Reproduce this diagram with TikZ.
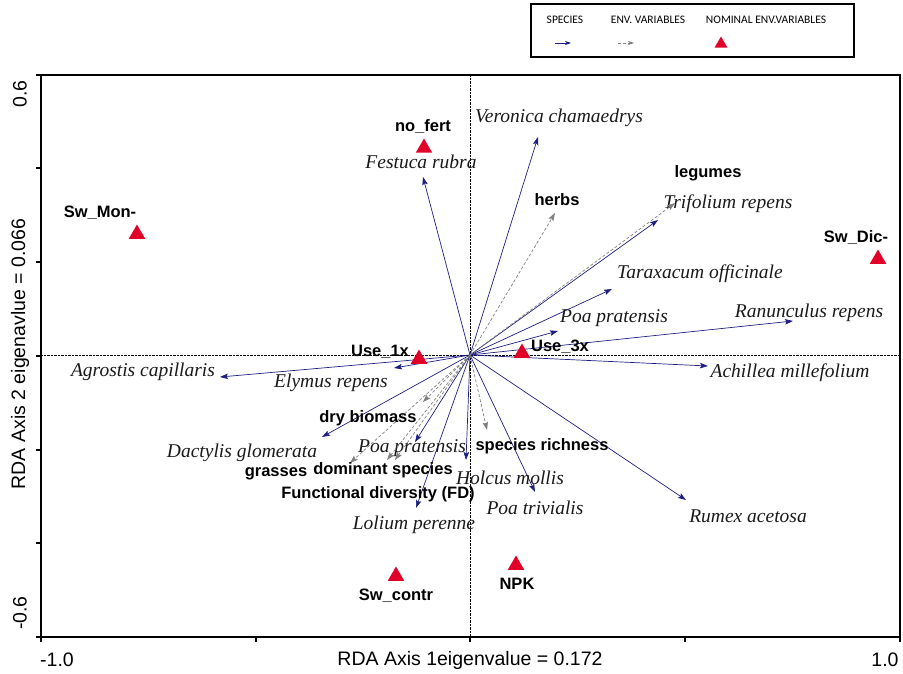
\documentclass[tikz,border=0pt]{standalone}
\usepackage{fontspec}
\setmainfont{Liberation Serif}
\setsansfont{Liberation Sans}
\newfontfamily\legendfont{Carlito}
\usetikzlibrary{arrows.meta,shapes.geometric}
\definecolor{spblue}{RGB}{30,30,130}
\definecolor{envgray}{RGB}{128,128,128}
\definecolor{nomred}{RGB}{224,0,40}
\tikzset{
  species/.style={->, draw=spblue, line width=0.7pt},
  envvar/.style={->, draw=envgray, line width=0.7pt, dash pattern=on 3pt off 2pt},
  nominal/.style={regular polygon, regular polygon sides=3, fill=nomred,
    minimum size=19pt, inner sep=0pt},
  splab/.style={font=\fontsize{19.5}{22}\selectfont\itshape, inner sep=0pt, text=black!90},
  envlab/.style={font=\fontsize{16.5}{19}\selectfont\sffamily\bfseries, inner sep=0pt},
  axlab/.style={font=\fontsize{19.5}{22}\selectfont\sffamily, inner sep=0pt},
  leglab/.style={font=\fontsize{11.5}{13}\selectfont\legendfont, inner sep=0pt}
}

\begin{document}
\begin{tikzpicture}[x=1pt, y=-1pt, >={Stealth[length=8pt, width=5.5pt, inset=1.5pt]}]
\useasboundingbox (0,0) rectangle (903,674);

% --- Frame, Axes and Ticks ---
\draw[line width=1.1pt] (41,75) rectangle (900,637);
\draw[densely dotted, thin] (470,75) -- (470,637);
\draw[densely dotted, thin] (41,355) -- (900,355);
\foreach \tx in {41,256,470,685,900}
  \draw[line width=1.1pt] (\tx,637) -- (\tx,642);
\foreach \ty in {75,168,262,356,450,543,637}
  \draw[line width=1.1pt] (36,\ty) -- (41,\ty);

\node[axlab] (xmin) at (57,660) {-1.0};
\node[axlab] (xmax) at (885,660) {1.0};
\node[axlab, rotate=90] (ymax) at (20,94) {0.6};
\node[axlab, rotate=90] (ymin) at (20,613) {-0.6};
\node[axlab] (xtitle) at (470,660) {RDA Axis 1eigenvalue = 0.172};
\node[axlab, rotate=90] (ytitle) at (20,354) {RDA Axis 2 eigenavlue = 0.066};

% --- Legend ---
\draw[line width=1.5pt] (531,4) rectangle (854,57);
\node[leglab] (leg-sp) at (565,20) {SPECIES};
\node[leglab] (leg-env) at (648,20) {ENV. VARIABLES};
\node[leglab] (leg-nom) at (766,20) {NOMINAL ENV.VARIABLES};
\coordinate (leg-sp-a) at (555,43);
\coordinate (leg-sp-b) at (571,43);
\coordinate (leg-env-a) at (618,43);
\coordinate (leg-env-b) at (634,43);
\draw[species, >={Stealth[length=6pt, width=4pt]}] (leg-sp-a) -- (leg-sp-b);
\draw[envvar, >={Stealth[length=6pt, width=4pt]}] (leg-env-a) -- (leg-env-b);
\node[nominal, minimum size=15pt] (leg-tri) at (721,44) {};

% --- Species arrows ---
\coordinate (O) at (470,355);
\coordinate (vero) at (538,137);
\coordinate (fest) at (423,177);
\coordinate (trif) at (658,220);
\coordinate (tara) at (612,289);
\coordinate (poaup) at (558,331);
\coordinate (ranu) at (793,321);
\coordinate (achi) at (708,366);
\coordinate (agro) at (220,377);
\coordinate (elym) at (394,368);
\coordinate (dact) at (322,437);
\coordinate (poalo) at (415,442);
\coordinate (holc) at (466,460);
\coordinate (poatr) at (535,492);
\coordinate (loli) at (416,508);
\coordinate (rume) at (686,500);

\foreach \sp in {vero,fest,trif,tara,poaup,ranu,achi,agro,elym,dact,poalo,holc,poatr,loli,rume}
  \draw[species] (O) -- (\sp);

\node[splab] (vero-lab) at (559,118) {Veronica chamaedrys};
\node[splab] (fest-lab) at (421,162) {Festuca rubra};
\node[splab] (trif-lab) at (728,204) {Trifolium repens};
\node[splab] (tara-lab) at (700,274) {Taraxacum officinale};
\node[splab] (poaup-lab) at (614,318) {Poa pratensis};
\node[splab] (ranu-lab) at (809,313) {Ranunculus repens};
\node[splab] (achi-lab) at (790,373) {Achillea millefolium};
\node[splab] (agro-lab) at (143,372) {Agrostis capillaris};
\node[splab] (elym-lab) at (331,383) {Elymus repens};
\node[splab] (dact-lab) at (242,453) {Dactylis glomerata};
\node[splab] (poalo-lab) at (412,448) {Poa pratensis};
\node[splab] (holc-lab) at (510,478) {Holcus mollis};
\node[splab] (poatr-lab) at (535,508) {Poa trivialis};
\node[splab] (loli-lab) at (414,525) {Lolium perenne};
\node[splab] (rume-lab) at (748,516) {Rumex acetosa};

% --- Environmental variables ---
\coordinate (herb) at (555,213);
\coordinate (legu) at (675,203);
\coordinate (rich) at (487,430);
\coordinate (drym) at (423,402);
\coordinate (gras) at (350,463);
\coordinate (domi) at (387,460);
\coordinate (fdiv) at (395,460);

\foreach \ev in {herb,legu,rich,drym,gras,domi,fdiv}
  \draw[envvar] (O) -- (\ev);

\node[envlab] (herb-lab) at (557,200) {herbs};
\node[envlab] (legu-lab) at (708,173) {legumes};
\node[envlab] (rich-lab) at (542,446) {species richness};
\node[envlab] (drym-lab) at (368,418) {dry biomass};
\node[envlab] (gras-lab) at (276,474) {grasses};
\node[envlab] (domi-lab) at (383,470) {dominant species};
\node[envlab] (fdiv-lab) at (378,494) {Functional diversity (FD)};

% --- Nominal variables ---
\node[nominal] (nofert) at (424,148) {};
\node[nominal] (swmon) at (137,234) {};
\node[nominal] (swdic) at (878,259) {};
\node[nominal] (use1) at (419,359) {};
\node[nominal] (use3) at (522,353) {};
\node[nominal] (npk) at (516,565) {};
\node[nominal] (swcon) at (396,576) {};

\node[envlab] (nofert-lab) at (423,127) {no\_fert};
\node[envlab] (swmon-lab) at (100,213) {Sw\_Mon-};
\node[envlab] (swdic-lab) at (856,238) {Sw\_Dic-};
\node[envlab] (use1-lab) at (380,352) {Use\_1x};
\node[envlab] (use3-lab) at (560,347) {Use\_3x};
\node[envlab] (npk-lab) at (517,584) {NPK};
\node[envlab] (swcon-lab) at (396,596) {Sw\_contr};

\end{tikzpicture}
\end{document}
